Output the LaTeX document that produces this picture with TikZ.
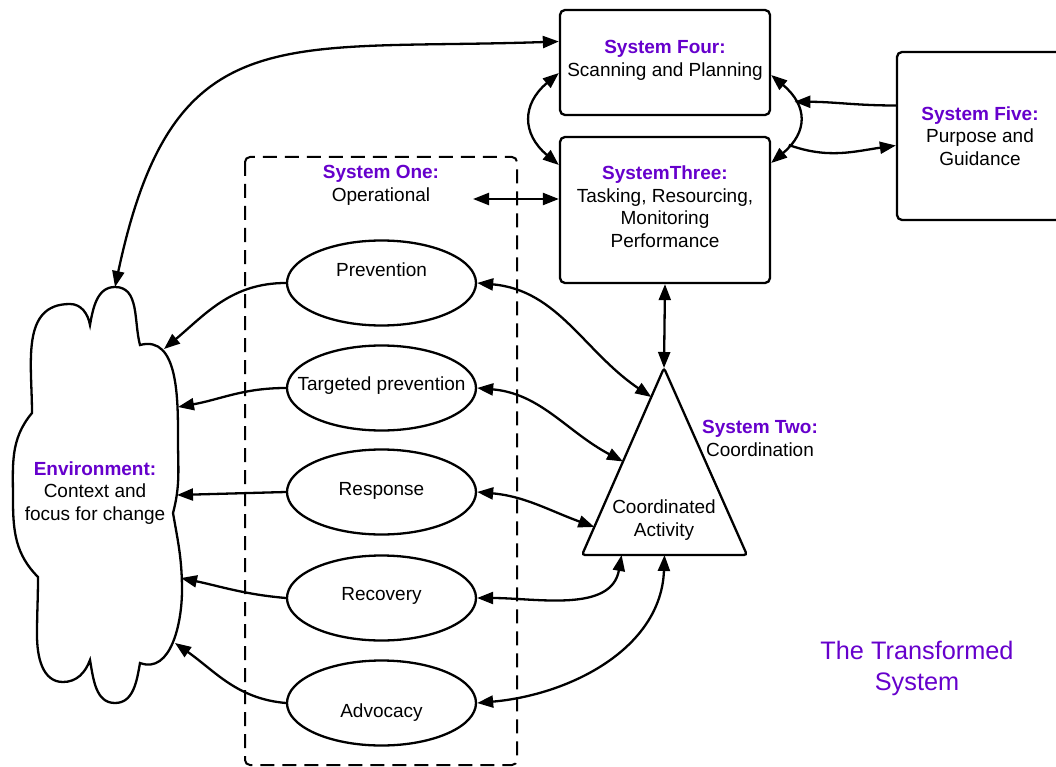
\documentclass[tikz,border=0pt]{standalone}
\usepackage{fontspec}
\setmainfont{Liberation Sans}
\usetikzlibrary{arrows.meta,shapes.geometric,calc}
\definecolor{vsmpurple}{RGB}{102,0,204}
\newcommand{\sysname}[1]{\textcolor{vsmpurple}{\bfseries #1}}

\begin{document}
\begin{tikzpicture}[x=1pt, y=1pt, line width=2.3pt,
    >={Triangle[length=16pt,width=12pt]},
    every node/.style={font=\fontsize{19}{22.7}\selectfont, align=center},
    sysbox/.style={draw, rounded corners=5pt, minimum width=210pt, inner sep=0pt},
    opunit/.style={draw, ellipse, minimum width=189pt, minimum height=85pt},
    link/.style={<->}]
    \useasboundingbox (0,0) rectangle (1056,-767);
    \clip (0,0) rectangle (1056,-767);

    % systems three, four and five
    \node[sysbox, minimum height=105pt, text depth=8pt] (s4) at (665,-62.5) {\sysname{System Four:}\\Scanning and Planning};
    \node[sysbox, minimum height=146pt, text depth=7pt] (s3) at (665,-210) {\sysname{SystemThree:}\\Tasking, Resourcing,\\Monitoring\\Performance};
    \node[sysbox, minimum width=166pt, minimum height=168pt] (s5) at (980,-136) {\sysname{System Five:}\\Purpose and\\Guidance};

    % system one
    \draw[dashed, line width=2pt, dash pattern=on 14pt off 8pt, rounded corners=5pt] (245,-157) rectangle (517,-765);
    \node (sysone) at (381,-185.5) {\sysname{System One:}\\Operational};
    \coordinate (opend) at (473,-199);
    \node[opunit] (prev) at (381.5,-283) {};
    \node[opunit] (targ) at (381.5,-388) {};
    \node[opunit] (resp) at (381.5,-492) {};
    \node[opunit] (reco) at (381.5,-598) {};
    \node[opunit] (advo) at (381.5,-703) {};
    \node (prevtxt) at (381.5,-270) {Prevention};
    \node (targtxt) at (381.5,-386) {Targeted prevention};
    \node (resptxt) at (381.5,-491) {Response};
    \node (recotxt) at (381.5,-596) {Recovery};
    \node (advotxt) at (381.5,-713) {Advocacy};

    % system two
    \coordinate (tA) at (664,-368);
    \coordinate (tL) at (582,-555);
    \coordinate (tR) at (747,-555);
    \draw[rounded corners=3pt] (tA) -- (tL) -- (tR) -- cycle;
    \node (coordtxt) at (664,-520) {Coordinated\\Activity};
    \node (systwo) at (760,-438.5) {\sysname{System Two:}\\Coordination};

    % environment
    \draw (115,-287) to[out=0,in=105] (140,-345)
        to[out=15,in=90] (178,-440) to[out=-90,in=75] (173,-513)
        to[out=-80,in=90] (182,-590) to[out=-90,in=-20] (140,-663)
        to[out=-100,in=0] (115,-703) to[out=180,in=-80] (90,-660)
        to[out=-110,in=0] (63,-682) to[out=180,in=-90] (37,-635)
        to[out=90,in=-90] (38,-577)
        to[out=135,in=-90] (13,-500) to[out=90,in=-130] (32,-413)
        to[out=90,in=180,looseness=1.1] (70,-304) to[out=0,in=100] (90,-325)
        to[out=80,in=180] (115,-287) -- cycle;
    \node (env) at (95,-493) {\sysname{Environment:}\\Context and\\focus for change};
    \coordinate (envtop) at (115,-287);
    \coordinate (ec1) at (164,-349);
    \coordinate (ec2) at (178,-407);
    \coordinate (ec3) at (177,-495);
    \coordinate (ec4) at (181,-578);
    \coordinate (ec5) at (175,-643);

    \node[text=vsmpurple, font=\fontsize{25.3}{31}\selectfont] (title) at (917,-668.5) {The Transformed\\System};

    % connectors between the systems
    \draw[link] ([yshift=21pt]s4.west) to[out=182,in=78,looseness=1.4] (envtop);
    \draw[link] ([yshift=-10.5pt]s4.west) to[out=220,in=140,looseness=1.35] ([yshift=45pt]s3.west);
    \draw[link] ([yshift=-12.5pt]s4.east) to[out=-40,in=40,looseness=1.4]
        node[coordinate, pos=0.3] (bend1) {} node[coordinate, pos=0.8] (bend2) {} ([yshift=47pt]s3.east);
    \draw[->] ([yshift=30.5pt]s5.west) to[out=180,in=0] (bend1);
    \draw[->] (bend2) to[out=-20,in=188] ([yshift=-9.5pt]s5.west);
    \draw[link] (opend) -- ([yshift=11pt]s3.west);
    \draw[link] (s3.south) -- (tA);

    % operational units to coordination
    \draw[link] (prev.east) to[out=-5,in=146] ($(tA)!0.155!(tL)$);
    \draw[link] (targ.east) to[out=-5,in=152] ($(tA)!0.5!(tL)$);
    \draw[link] (resp.east) to[out=-5,in=160] ($(tA)!0.85!(tL)$);
    \draw[link] (reco.east) to[out=0,in=-100] ($(tL)!0.24!(tR)$);
    \draw[link] (advo.east) to[out=5,in=-92] ($(tL)!0.5!(tR)$);

    % operational units to environment
    \draw[->] (prev.west) to[out=180,in=40] (ec1);
    \draw[->] (targ.west) to[out=180,in=10] (ec2);
    \draw[->] (resp.west) -- (ec3);
    \draw[->] (reco.west) to[out=175,in=-12] (ec4);
    \draw[->] (advo.west) to[out=175,in=-35] (ec5);
\end{tikzpicture}
\end{document}
